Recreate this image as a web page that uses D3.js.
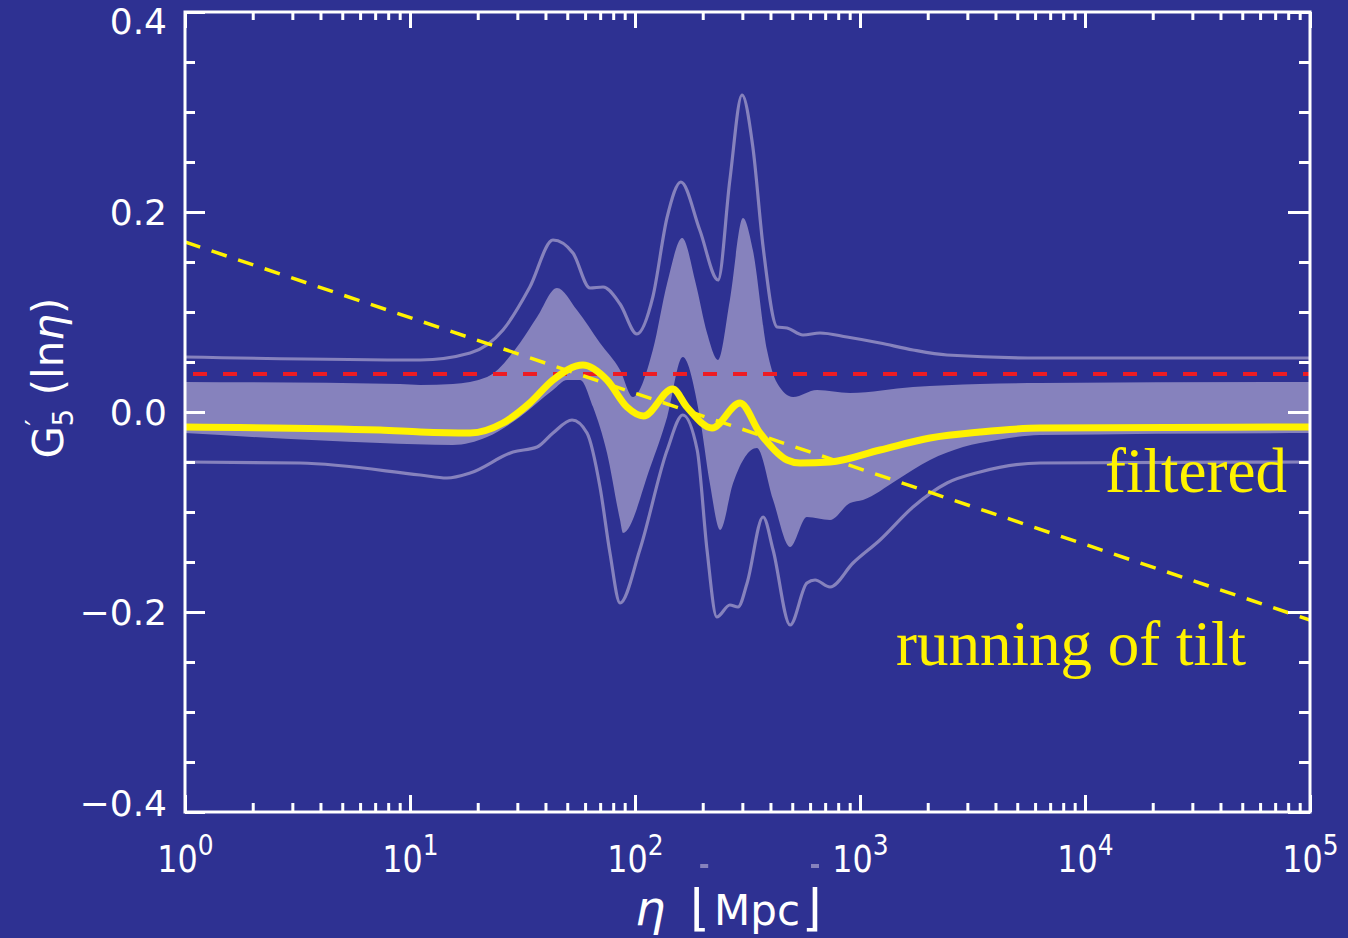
<!DOCTYPE html>
<html>
<head>
<meta charset="utf-8">
<script src="https://cdn.jsdelivr.net/npm/d3@7"></script>
<style>
    html, body { margin: 0; padding: 0; background: #2e3192; }
    svg { display: block; }
</style>
</head>
<body>
<div id="chart"></div>
<script>
// Values: eta in Mpc, G'5(ln eta)

// shaded band (filtered reconstruction, 1 sigma)
const bandHiEta = [1, 9.03, 11.1, 15.5, 22.0, 30.8, 36.7, 45.0, 55.2, 69.9, 85.8, 98.0, 120, 139, 162, 186, 209, 234, 264, 302, 334, 386, 428, 504, 644, 903, 1720, 3414, 6310, 100000];
const bandHiG = [0.030, 0.028, 0.027, 0.028, 0.035, 0.069, 0.095, 0.124, 0.102, 0.069, 0.042, 0.015, 0.062, 0.129, 0.174, 0.129, 0.079, 0.052, 0.112, 0.194, 0.162, 0.062, 0.029, 0.015, 0.022, 0.019, 0.025, 0.028, 0.029, 0.030];
const bandLoEta = [1, 7.36, 15.5, 22.0, 30.8, 43.2, 49.9, 57.0, 65.1, 75.1, 85.8, 88.4, 117, 139, 163, 194, 215, 239, 273, 348, 411, 489, 581, 736, 903, 1031, 1459, 2047, 2870, 4064, 6310, 100000];
const bandLoG = [-0.021, -0.031, -0.033, -0.025, -0.005, 0.022, 0.032, 0.032, 0.005, -0.041, -0.108, -0.121, -0.055, -0.005, 0.055, -0.005, -0.071, -0.118, -0.071, -0.036, -0.088, -0.135, -0.105, -0.108, -0.091, -0.088, -0.068, -0.048, -0.035, -0.028, -0.023, -0.021];

// outer light curves (2 sigma)
const outerHiEta = [1, 11.1, 18.5, 25.9, 34.1, 43.2, 53.0, 63.1, 72.1, 85.8, 102, 120, 139, 160, 194, 234, 264, 299, 334, 371, 428, 474, 558, 664, 875, 1227, 1720, 2436, 6310, 100000];
const outerHiG = [0.055, 0.052, 0.059, 0.082, 0.125, 0.172, 0.159, 0.124, 0.125, 0.108, 0.078, 0.115, 0.195, 0.230, 0.182, 0.132, 0.232, 0.317, 0.265, 0.165, 0.085, 0.084, 0.077, 0.079, 0.075, 0.069, 0.062, 0.057, 0.054, 0.054];
const outerLoEta = [1, 3.24, 11.1, 14.6, 18.5, 28.7, 36.7, 43.2, 52.5, 61.2, 69.9, 77.4, 85.8, 105, 139, 163, 189, 209, 231, 264, 287, 315, 371, 411, 489, 581, 631, 736, 931, 1227, 1720, 2436, 3414, 6310, 100000];
const outerLoG = [-0.050, -0.051, -0.063, -0.066, -0.061, -0.040, -0.035, -0.021, -0.008, -0.021, -0.075, -0.141, -0.191, -0.138, -0.038, -0.003, -0.038, -0.138, -0.205, -0.193, -0.195, -0.171, -0.105, -0.138, -0.213, -0.171, -0.168, -0.175, -0.151, -0.128, -0.095, -0.071, -0.060, -0.051, -0.050];

// filtered reconstruction (thick yellow)
const filteredEta = [1, 7.36, 11.1, 18.5, 25.9, 34.1, 43.2, 58.7, 75.1, 92.1, 109, 147, 170, 220, 293, 359, 474, 541, 736, 1227, 2047, 3414, 6310, 100000];
const filteredG = [-0.015, -0.018, -0.020, -0.021, -0.011, 0.009, 0.032, 0.047, 0.032, 0.005, -0.004, 0.023, 0.005, -0.016, 0.009, -0.021, -0.048, -0.051, -0.050, -0.038, -0.026, -0.020, -0.016, -0.015];

// running of tilt (yellow dashed) and red dashed reference
const tiltEta = [1, 100000];
const tiltG = [0.170, -0.208];
const refEta = [1, 100000];
const refG = [0.038, 0.038];

// axis ticks
const yMajorTicks = [-0.4, -0.2, 0, 0.2, 0.4];
const yMinorTicks = [-0.35, -0.3, -0.25, -0.15, -0.1, -0.05, 0.05, 0.1, 0.15, 0.25, 0.3, 0.35];
const xMajorTicks = [1, 10, 100, 1000, 10000, 100000];
const xExponents = ['0', '1', '2', '3', '4', '5'];

// text annotations
const noteText = ['filtered', 'running of tilt'];
const noteEta = [79000, 52000];
const noteG = [-0.080, -0.253];

// stray marks under the x axis
const strayEta = [203, 631];

const BG = '#2e3192';
const LIGHT = '#8682bd';
const YELLOW = '#fff200';
const RED = '#ed1c24';

const width = 1348, height = 938;
const margin = { top: 12, right: 38, bottom: 126, left: 185 };

const svg = d3.select('#chart').append('svg')
    .attr('width', width)
    .attr('height', height);

svg.append('rect').attr('width', width).attr('height', height).attr('fill', BG);

const x = d3.scaleLog().domain([1, 1e5]).range([margin.left, width - margin.right]);
const y = d3.scaleLinear().domain([-0.4, 0.4]).range([height - margin.bottom, margin.top]);

const pts = (etas, gs) => etas.map((e, i) => [e, gs[i]]);

svg.append('clipPath').attr('id', 'plot')
    .append('rect')
    .attr('x', x(1)).attr('y', y(0.4))
    .attr('width', x(1e5) - x(1)).attr('height', y(-0.4) - y(0.4));

// band = (below upper edge) clipped by (above lower edge)
const aboveLo = d3.area().x(d => x(d[0])).y0(y(0.4)).y1(d => y(d[1])).curve(d3.curveMonotoneX);
const belowHi = d3.area().x(d => x(d[0])).y0(y(-0.4)).y1(d => y(d[1])).curve(d3.curveMonotoneX);

svg.append('clipPath').attr('id', 'bandclip')
    .append('path').attr('d', aboveLo(pts(bandLoEta, bandLoG)));

const g = svg.append('g').attr('clip-path', 'url(#plot)');

g.append('path')
    .attr('clip-path', 'url(#bandclip)')
    .attr('fill', LIGHT)
    .attr('d', belowHi(pts(bandHiEta, bandHiG)));

const line = d3.line().x(d => x(d[0])).y(d => y(d[1])).curve(d3.curveMonotoneX);

g.append('path').datum(pts(outerHiEta, outerHiG))
    .attr('fill', 'none').attr('stroke', LIGHT).attr('stroke-width', 3.2).attr('d', line);
g.append('path').datum(pts(outerLoEta, outerLoG))
    .attr('fill', 'none').attr('stroke', LIGHT).attr('stroke-width', 3.2).attr('d', line);

g.append('path').datum(pts(refEta, refG))
    .attr('fill', 'none').attr('stroke', RED).attr('stroke-width', 4)
    .attr('stroke-dasharray', '14,16').attr('stroke-dashoffset', -8).attr('d', line);

g.append('path').datum(pts(tiltEta, tiltG))
    .attr('fill', 'none').attr('stroke', YELLOW).attr('stroke-width', 3.5)
    .attr('stroke-dasharray', '16,12').attr('d', line);

g.append('path').datum(pts(filteredEta, filteredG))
    .attr('fill', 'none').attr('stroke', YELLOW).attr('stroke-width', 7)
    .attr('stroke-linejoin', 'round').attr('d', line);

// annotations
svg.selectAll('.note').data(noteText).enter().append('text')
    .attr('class', 'note')
    .attr('x', (d, i) => x(noteEta[i]))
    .attr('y', (d, i) => y(noteG[i]))
    .attr('text-anchor', 'end')
    .attr('font-family', '"Liberation Serif", "Times New Roman", serif')
    .attr('font-size', 63)
    .attr('fill', YELLOW)
    .text(d => d);

// axes: ticks point inward on all four sides
const xMinor = x.ticks().filter(v => xMajorTicks.indexOf(v) < 0);

function styleAxis(sel) {
    sel.attr('color', 'white');
    sel.select('.domain').remove();
    sel.selectAll('.tick line').attr('stroke-width', 3);
}

svg.append('g').attr('transform', `translate(0,${y(-0.4)})`)
    .call(d3.axisBottom(x).tickValues(xMinor).tickSize(-9).tickFormat('')).call(styleAxis);
svg.append('g').attr('transform', `translate(0,${y(0.4)})`)
    .call(d3.axisTop(x).tickValues(xMinor).tickSize(-8).tickFormat('')).call(styleAxis);
svg.append('g').attr('transform', `translate(0,${y(0.4)})`)
    .call(d3.axisTop(x).tickValues(xMajorTicks).tickSize(-16).tickFormat('')).call(styleAxis);

const xAxis = svg.append('g').attr('transform', `translate(0,${y(-0.4)})`)
    .call(d3.axisBottom(x).tickValues(xMajorTicks).tickSize(-17).tickFormat(''))
    .call(styleAxis);

xAxis.selectAll('.tick text').each(function (d, i) {
    const t = d3.select(this)
        .attr('y', 60).attr('dy', 0)
        .attr('transform', 'scale(0.86,1)')
        .attr('font-family', '"DejaVu Sans", sans-serif')
        .attr('font-size', 37);
    t.append('tspan').text('10');
    t.append('tspan').attr('dy', -17).attr('font-size', 29).text(xExponents[i]);
});

svg.append('g').attr('transform', `translate(${x(1)},0)`)
    .call(d3.axisLeft(y).tickValues(yMinorTicks).tickSize(-10).tickFormat('')).call(styleAxis);
svg.append('g').attr('transform', `translate(${x(1e5)},0)`)
    .call(d3.axisRight(y).tickValues(yMinorTicks).tickSize(-11).tickFormat('')).call(styleAxis);
svg.append('g').attr('transform', `translate(${x(1e5)},0)`)
    .call(d3.axisRight(y).tickValues(yMajorTicks).tickSize(-22).tickFormat('')).call(styleAxis);

const yAxis = svg.append('g').attr('transform', `translate(${x(1)},0)`)
    .call(d3.axisLeft(y).tickValues(yMajorTicks).tickSize(-20).tickPadding(18).tickFormat(d3.format('.1f')))
    .call(styleAxis);

yAxis.selectAll('.tick text')
    .attr('font-family', '"DejaVu Sans", sans-serif')
    .attr('font-size', 36)
    .attr('dy', d => d === 0.4 ? '0.6em' : (d === -0.4 ? '0.1em' : '0.35em'));

// frame
svg.append('rect')
    .attr('x', x(1)).attr('y', y(0.4))
    .attr('width', x(1e5) - x(1)).attr('height', y(-0.4) - y(0.4))
    .attr('fill', 'none').attr('stroke', 'white').attr('stroke-width', 3);

// stray light marks near the x labels
svg.selectAll('.stray').data(strayEta).enter().append('rect')
    .attr('x', d => x(d) - 4).attr('y', y(-0.4) + 52)
    .attr('width', 8).attr('height', 4)
    .attr('fill', LIGHT);

// axis titles
const xTitle = svg.append('text')
    .attr('y', 925)
    .attr('fill', 'white')
    .attr('font-family', '"DejaVu Sans", sans-serif')
    .attr('font-size', 42);
xTitle.append('tspan').attr('x', 635).attr('font-style', 'italic').attr('font-size', 48).text('η');
xTitle.append('tspan').attr('x', 690).attr('font-size', 50).text('⌊');
xTitle.append('tspan').attr('x', 714).text('Mpc');
xTitle.append('tspan').attr('x', 802).attr('font-size', 50).text('⌋');

const yTitle = svg.append('text')
    .attr('transform', 'translate(63,378) rotate(-90)')
    .attr('text-anchor', 'middle')
    .attr('fill', 'white')
    .attr('font-family', '"DejaVu Sans", sans-serif')
    .attr('font-size', 42);
yTitle.append('tspan').text('G');
yTitle.append('tspan').attr('dy', -17).attr('font-size', 28).text('′');
yTitle.append('tspan').attr('dx', -7).attr('dy', 27).attr('font-size', 28).text('5');
yTitle.append('tspan').attr('dy', -10).text(' (ln');
yTitle.append('tspan').attr('font-style', 'italic').text('η');
yTitle.append('tspan').text(')');
</script>
</body>
</html>
